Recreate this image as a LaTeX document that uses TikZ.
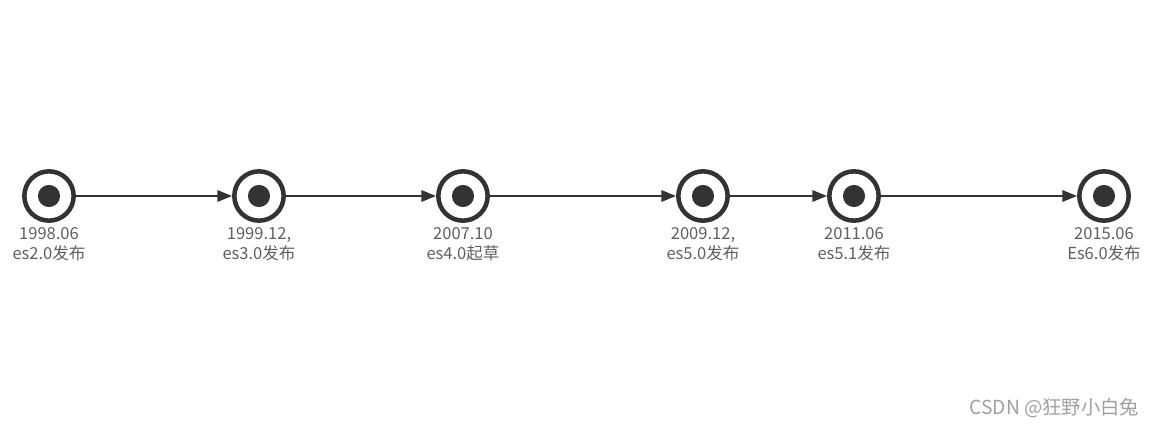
\documentclass[tikz,border=0pt]{standalone}
\usepackage{fontspec}
\setmainfont{Noto Sans CJK SC}
\usetikzlibrary{arrows.meta}
\definecolor{ink}{HTML}{333333}
\definecolor{txt}{HTML}{5F5F5F}
\definecolor{mark}{HTML}{A0A0A0}
\tikzset{
  event/.style={circle, draw=ink, line width=3.4pt, minimum size=37pt, inner sep=0pt, fill=white,
    path picture={\fill[ink] (path picture bounding box.center) circle (8.3pt);}},
  when/.style={align=center, text=txt, font=\fontsize{12.4pt}{15.2pt}\selectfont},
  flow/.style={draw=ink, line width=1.5pt, -{Triangle[length=11pt,width=8.5pt]}}
}
\begin{document}
\begin{tikzpicture}[x=0.75pt,y=0.75pt]
  \useasboundingbox (0,0) rectangle (1158,426);

  \foreach \x/\n/\t in {49/e1/{1998.06\\es2.0发布}, 259/e2/{1999.12,\\es3.0发布},
                        463/e3/{2007.10\\es4.0起草}, 703/e4/{2009.12,\\es5.0发布},
                        854/e5/{2011.06\\es5.1发布}, 1104/e6/{2015.06\\Es6.0发布}} {
    \node[event] (\n) at (\x, 230) {};
    \node[when] (\n-l) at (\x, 182) {\t};
  }

  \foreach \a/\b in {e1/e2, e2/e3, e3/e4, e4/e5, e5/e6} {
    \draw[flow] (\a) -- (\b);
  }

  \node[text=mark, font=\fontsize{14.5pt}{17pt}\selectfont, anchor=east] (wm) at (1144, 18) {CSDN @狂野小白兔};
\end{tikzpicture}
\end{document}
